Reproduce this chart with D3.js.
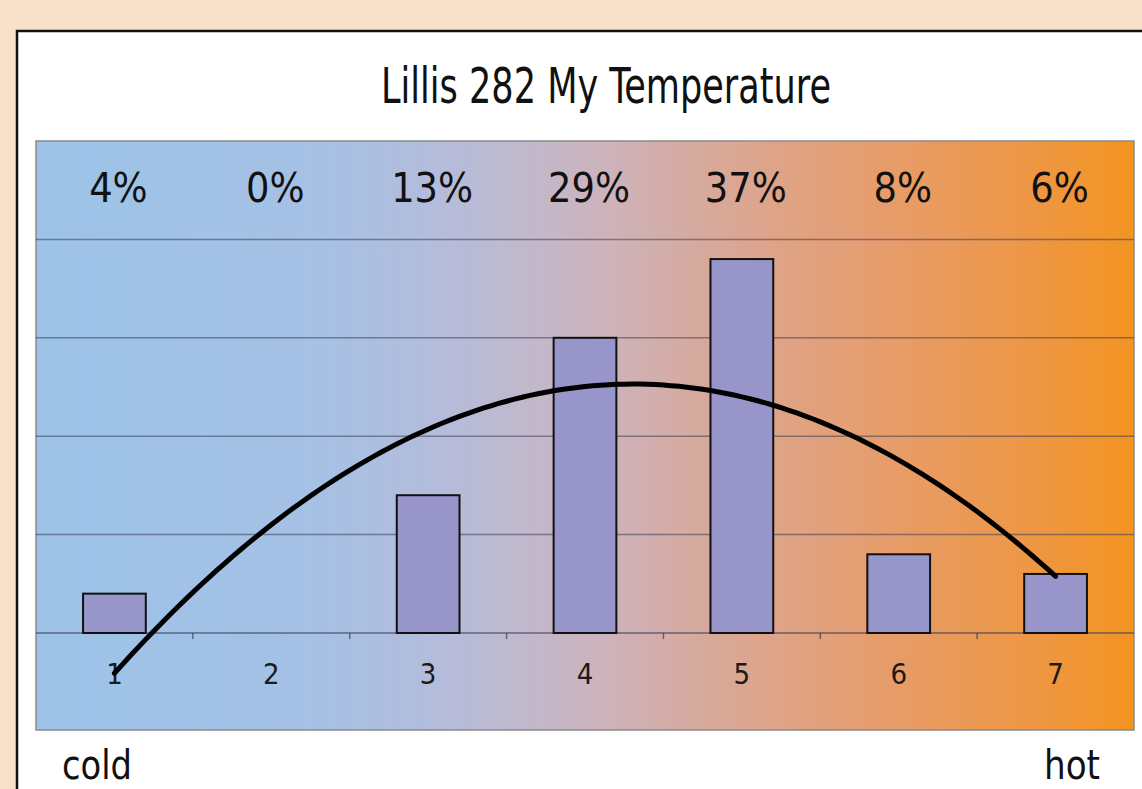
<!DOCTYPE html>
<html>
<head>
<meta charset="utf-8">
<script src="https://cdn.jsdelivr.net/npm/d3@7"></script>
<style>
  html, body { margin: 0; padding: 0; background: #f9e0cb; }
  svg { display: block; }
  text { font-family: "DejaVu Sans Condensed", "DejaVu Sans", sans-serif; }
</style>
</head>
<body>
<svg id="chart" width="1142" height="789"></svg>
<script>
// ---- data ----
const categories = ["1", "2", "3", "4", "5", "6", "7"];
const counts = [2, 0, 7, 15, 19, 4, 3];
const percentLabels = ["4%", "0%", "13%", "29%", "37%", "8%", "6%"];
const gridValues = [0, 5, 10, 15, 20, 25];
const titleText = "Lillis 282 My Temperature";
const endLabels = ["cold", "hot"];

// ---- layout ----
const W = 1142, H = 789;
const svg = d3.select("#chart");

const plot = { left: 36, right: 1134, top: 141, bottom: 730 };
const baseY = 633;

const x = d3.scaleBand()
  .domain(categories)
  .range([plot.left, plot.right])
  .paddingInner(0.6)
  .paddingOuter(0.3);

const y = d3.scaleLinear().domain([0, 25]).range([baseY, plot.top]);

// card
svg.append("rect")
  .attr("x", 17).attr("y", 31)
  .attr("width", W).attr("height", H)
  .attr("fill", "#ffffff")
  .attr("stroke", "#111").attr("stroke-width", 2.5);

// gradient
const defs = svg.append("defs");
const grad = defs.append("linearGradient").attr("id", "bg")
  .attr("x1", "0%").attr("x2", "100%").attr("y1", "0%").attr("y2", "0%");
[
  [0, "#9dc3e8"], [0.25, "#a5c1e5"], [0.37, "#b4bcdb"], [0.45, "#c2b8cb"],
  [0.52, "#cdb3bb"], [0.6, "#d6aa9f"], [0.68, "#dfa386"], [0.78, "#e79c69"],
  [0.9, "#ed9747"], [1, "#f39421"]
].forEach(([o, c]) => grad.append("stop").attr("offset", o).attr("stop-color", c));

svg.append("rect")
  .attr("x", plot.left).attr("y", plot.top)
  .attr("width", plot.right - plot.left).attr("height", plot.bottom - plot.top)
  .attr("fill", "url(#bg)")
  .attr("stroke", "#8a8a8a").attr("stroke-width", 1.5);

// gridlines
svg.append("g").selectAll("line")
  .data(gridValues.filter(v => v > 0 && v < 25))
  .join("line")
  .attr("x1", plot.left).attr("x2", plot.right)
  .attr("y1", d => y(d)).attr("y2", d => y(d))
  .attr("stroke", "#3a3f55").attr("stroke-opacity", 0.55).attr("stroke-width", 1.5);

// x axis (labels)
const xAxis = d3.axisBottom(x).tickSize(0).tickPadding(0);
const axG = svg.append("g").attr("transform", `translate(0,${y(0)})`).call(xAxis);
axG.select(".domain").remove();
axG.attr("font-size", 29);
axG.selectAll(".tick text")
  .attr("y", 51)
  .attr("dy", 0)
  .attr("font-size", 29)
  .attr("fill", "#1a1a1a")
  .style("font-family", "'DejaVu Sans Condensed','DejaVu Sans',sans-serif");

// baseline + ticks
svg.append("line")
  .attr("x1", plot.left).attr("x2", plot.right)
  .attr("y1", y(0)).attr("y2", y(0))
  .attr("stroke", "#3a3f55").attr("stroke-opacity", 0.7).attr("stroke-width", 1.5);

const step = x.step();
svg.append("g").selectAll("line")
  .data(categories.slice(1))
  .join("line")
  .attr("x1", d => x(d) - step * x.paddingInner() / 2)
  .attr("x2", d => x(d) - step * x.paddingInner() / 2)
  .attr("y1", y(0)).attr("y2", y(0) + 6)
  .attr("stroke", "#3a3f55").attr("stroke-opacity", 0.7).attr("stroke-width", 1.5);

// bars
svg.append("g").selectAll("rect")
  .data(categories.map((c, i) => ({ c, v: counts[i] })).filter(d => d.v > 0))
  .join("rect")
  .attr("x", d => x(d.c))
  .attr("width", x.bandwidth())
  .attr("y", d => y(d.v))
  .attr("height", d => y(0) - y(d.v))
  .attr("fill", "#9895cb")
  .attr("stroke", "#111").attr("stroke-width", 2);

// quadratic least-squares trendline computed from the counts
const xs = categories.map((c, i) => i + 1);
const mx = d3.mean(xs), my = d3.mean(counts);
const p1 = xs.map(v => v - mx);
const p2m = d3.mean(p1.map(v => v * v));
const p2 = p1.map(v => v * v - p2m);
const b1 = d3.sum(counts.map((v, i) => v * p1[i])) / d3.sum(p1.map(v => v * v));
const b2 = d3.sum(counts.map((v, i) => v * p2[i])) / d3.sum(p2.map(v => v * v));
const trend = t => my + b1 * (t - mx) + b2 * ((t - mx) * (t - mx) - p2m);
const xPos = t => x(categories[0]) + x.bandwidth() / 2 + (t - 1) * step;
const curvePts = d3.range(1, 7.0001, 0.05).map(t => [xPos(t), y(trend(t))]);
svg.append("path")
  .attr("d", d3.line()(curvePts))
  .attr("fill", "none")
  .attr("stroke", "#000").attr("stroke-width", 5)
  .attr("stroke-linecap", "round");

// percent labels
svg.append("g").selectAll("text")
  .data(percentLabels)
  .join("text")
  .attr("x", (d, i) => x(categories[i]) + x.bandwidth() / 2 + 4)
  .attr("y", 202)
  .attr("text-anchor", "middle")
  .attr("font-size", 41)
  .attr("fill", "#111")
  .text(d => d);

// title
svg.append("text")
  .attr("x", 606).attr("y", 103)
  .attr("text-anchor", "middle")
  .attr("font-size", 49)
  .attr("textLength", 450)
  .attr("lengthAdjust", "spacingAndGlyphs")
  .attr("fill", "#111")
  .text(titleText);

// cold / hot
svg.append("text")
  .attr("x", 62).attr("y", 779)
  .attr("font-size", 40).attr("fill", "#111")
  .attr("textLength", 70).attr("lengthAdjust", "spacingAndGlyphs")
  .text(endLabels[0]);
svg.append("text")
  .attr("x", 1100).attr("y", 779)
  .attr("text-anchor", "end")
  .attr("font-size", 40).attr("fill", "#111")
  .attr("textLength", 56).attr("lengthAdjust", "spacingAndGlyphs")
  .text(endLabels[1]);
</script>
</body>
</html>
